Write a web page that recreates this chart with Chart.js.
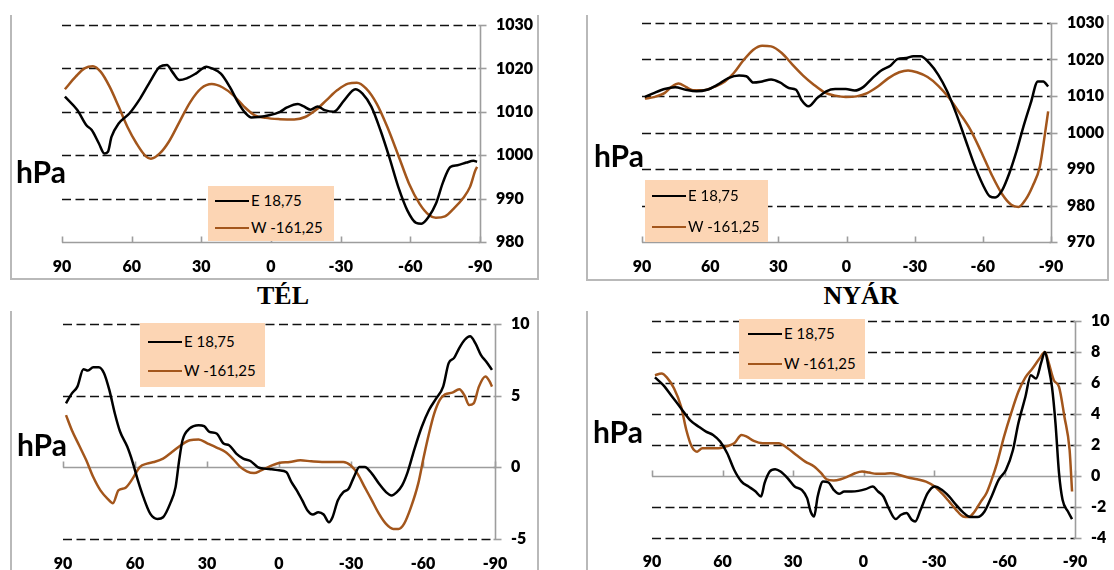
<!DOCTYPE html>
<html>
<head>
<meta charset="utf-8">
<script src="https://cdn.jsdelivr.net/npm/chart.js@4/dist/chart.umd.min.js"></script>
<style>
  html, body { margin: 0; padding: 0; background: #fff; }
  body { width: 1114px; height: 570px; position: relative; overflow: hidden; font-family: Lato, "Noto Sans", sans-serif; }
  canvas { position: absolute; }
  .frame { position: absolute; background: #b9b9b9; }
  .unit { position: absolute; font: bold 30px Lato, sans-serif; line-height: 30px; color: #000; }
  .key { position: absolute; background: #fcd5b4; }
  .key div { position: absolute; font: 15px Lato, sans-serif; line-height: 18px; height: 18px; white-space: nowrap; color: #000; }
  .key i { display: inline-block; width: 34px; height: 0; border-top: 2.5px solid; vertical-align: middle; margin-right: 2px; position: relative; top: -1px; }
  .title { position: absolute; width: 200px; text-align: center; font: bold 26px "Liberation Serif", serif; line-height: 26px; color: #000; }
</style>
</head>
<body>
<script>
// ---- series labels and axis ticks ----
const seriesNames = ['E 18,75', 'W -161,25'];
const latTicks = [90, 60, 30, 0, -30, -60, -90];
const presTicksWinter = [980, 990, 1000, 1010, 1020, 1030];
const presTicksSummer = [970, 980, 990, 1000, 1010, 1020, 1030];
const anomTicksWinter = [-5, 0, 5, 10];
const anomTicksSummer = [-4, -2, 0, 2, 4, 6, 8, 10];
const seasonTitles = ['TÉL', 'NYÁR'];

// ---- winter (TÉL) mean sea-level pressure, hPa ----
const telPresLatE = [88.75, 83.4, 79.5, 77.2, 74.1, 71.8, 70.2, 68.7, 65.6, 61, 56.3, 51.7, 47.9, 44.8, 42.5, 39.4, 36.3, 32.4, 27.8, 25.5, 21.6, 17.8, 13.9, 10.8, 8.5, 5.4, 0.8, -3.9, -6.9, -11.6, -13.9, -17, -20.1, -23.1, -27, -31.6, -36.3, -39.4, -43.2, -47.1, -50.9, -54.8, -58.7, -62.5, -64.8, -67.9, -71, -74.1, -77.2, -80.3, -84.1, -87.2, -88.75];
const telPresE = [1013.5, 1010.4, 1006.9, 1005.8, 1002.7, 1000.4, 1000.8, 1004.2, 1007.3, 1009.6, 1013.1, 1017.3, 1020.4, 1020.8, 1019.2, 1017.3, 1017.7, 1018.8, 1020.4, 1020, 1018.8, 1015.8, 1011.9, 1009.6, 1008.7, 1008.8, 1009.2, 1010, 1011, 1011.8, 1011.3, 1010.5, 1011.2, 1010.4, 1010, 1012.7, 1015.2, 1014.2, 1011.2, 1005.8, 999.6, 992.7, 987.3, 984.4, 984.2, 985.8, 988.8, 993.8, 997.3, 997.7, 998.3, 998.7, 998.5];
const telPresLatW = [88.75, 84.1, 80.3, 76.7, 73.3, 69.5, 65.6, 61.8, 57.9, 54, 51.7, 47.9, 44, 39.4, 34.7, 30.1, 25.5, 20.8, 16.2, 11.6, 7, 2.3, -3.9, -10, -14.7, -19.3, -23.9, -28.6, -33.2, -37, -40.9, -45.5, -50.1, -54.8, -59.4, -64, -67.9, -71, -74.9, -78.7, -82.6, -85.7, -88, -88.75];
const telPresW = [1015.2, 1018.1, 1020, 1020.5, 1019.2, 1015.8, 1011.2, 1006.5, 1002.7, 999.8, 999.2, 1000.4, 1003.1, 1007.7, 1012.3, 1015.4, 1016.4, 1015.6, 1013.8, 1011.2, 1009.2, 1008.6, 1008.3, 1008.2, 1008.8, 1010.4, 1012.7, 1015, 1016.5, 1016.7, 1015.4, 1011.9, 1006.5, 1000, 993.5, 988.8, 986.3, 985.6, 985.9, 987.7, 990, 992.7, 996.5, 997.3];

// ---- summer (NYÁR) mean sea-level pressure, hPa ----
const nyarPresLatE = [88.75, 84.8, 80.1, 75.4, 70.7, 66, 61.4, 56.7, 52, 47.3, 44.1, 41, 37.1, 33.2, 29.3, 25.4, 22.2, 19.9, 16.7, 12.8, 8.9, 5, 0.3, -3.6, -7.5, -11.4, -15.3, -19.3, -22.4, -26.3, -29.4, -32.6, -36.5, -40.4, -44.3, -48.2, -52.1, -56, -60, -63.1, -65.4, -68.6, -71.7, -74.8, -77.9, -81.1, -84.2, -86.6, -88.75];
const nyarPresE = [1009.7, 1010.8, 1011.9, 1012.4, 1011.7, 1011.3, 1011.7, 1013.1, 1014.9, 1015.6, 1015.4, 1013.7, 1014, 1014.5, 1013.7, 1012.2, 1011.7, 1009, 1007.2, 1009.5, 1011.3, 1011.9, 1011.9, 1011.5, 1012.5, 1014.9, 1017, 1018.3, 1020.1, 1020.4, 1020.9, 1020.9, 1019, 1015.8, 1011.3, 1005.3, 998.5, 991.6, 985.7, 982.5, 982.2, 984.3, 988.9, 994.8, 1001.7, 1008.1, 1014, 1014, 1012.6];
const nyarPresLatW = [88.75, 84.8, 80.1, 77, 73.9, 70.7, 67.6, 62.9, 58.2, 53.5, 49.6, 45.7, 41, 37.1, 33.2, 28.5, 23.8, 19.1, 14.4, 9.7, 5, 0.3, -4.4, -9.1, -13.8, -18.5, -23.2, -27.1, -31, -35.7, -40.4, -45.1, -49.8, -54.5, -59.2, -63.9, -68.6, -72.5, -75.7, -78.8, -81.9, -85.1, -87.4, -88.75];
const nyarPresW = [1009.3, 1009.7, 1010.8, 1012.5, 1013.4, 1012.5, 1011.6, 1011.6, 1012.5, 1014, 1016.3, 1019.5, 1022.7, 1023.8, 1023.6, 1021.8, 1018.6, 1015.6, 1013.1, 1011, 1010.1, 1009.7, 1009.9, 1010.8, 1012.6, 1014.9, 1016.5, 1017, 1016.5, 1015.2, 1012.8, 1009.5, 1005.3, 1000.8, 994.8, 988.4, 983, 980.2, 979.6, 981.6, 985.3, 990.7, 999.9, 1005.8];

// ---- winter (TÉL) pressure anomaly, hPa ----
const telAnomLatE = [88.75, 86.3, 84, 81.5, 79.6, 77.4, 75.1, 72.9, 70.7, 68.4, 66.2, 63.2, 61, 58.8, 56.5, 53.6, 50.6, 48.3, 45.4, 43.1, 41.6, 40.2, 37.2, 33.5, 31.2, 29, 26, 23.1, 20.8, 17.8, 14.9, 11.9, 8.9, 6, 3, 0, -3, -5.2, -7.4, -9.7, -11.9, -14.1, -16.4, -18.6, -20.8, -22.3, -24.5, -26.8, -29, -31.2, -33.5, -35.7, -38.7, -41.7, -44.6, -46.9, -49.1, -51.3, -53.6, -56.5, -59.5, -62.5, -65.5, -68.4, -70.7, -72.9, -75.1, -77.4, -79.6, -81.8, -84.1, -86.3, -88.75];
const telAnomE = [4.46, 5.16, 5.63, 6.85, 6.75, 6.99, 6.99, 6.57, 5.4, 3.76, 2.48, 1.43, 0.37, -0.91, -2.08, -3.25, -3.6, -3.48, -2.55, -1.38, 0.49, 1.89, 2.71, 2.94, 2.87, 2.48, 2.36, 1.66, 1.54, 0.96, 0.61, 0.44, 0.02, -0.09, -0.14, -0.21, -0.33, -1.03, -1.61, -2.31, -3.01, -3.29, -3.13, -3.29, -3.83, -3.48, -2.31, -1.73, -1.5, -0.68, 0.02, 0.02, -0.44, -1.15, -1.73, -1.96, -1.73, -1.26, -0.33, 1.31, 2.83, 4, 4.81, 5.63, 7.27, 7.62, 8.32, 8.9, 9.14, 8.67, 7.85, 7.38, 6.8];
const telAnomLatW = [88.75, 86.3, 83.3, 80.3, 77.4, 74.4, 71.4, 69.2, 66.9, 64, 61, 58, 55, 52.1, 48.3, 44.6, 40.9, 37.2, 33.5, 29.7, 26, 22.3, 19.3, 16.4, 13.4, 10.4, 7.4, 4.5, 0, -4.5, -8.9, -13.4, -17.9, -22.3, -26.8, -29.8, -32.7, -35.7, -38.7, -41.7, -44.6, -47.6, -49.8, -52.1, -55, -58, -60.3, -62.5, -64.7, -67, -69.2, -72.2, -75.1, -77.4, -79.2, -81.1, -83.3, -86, -87.8, -88.75];
const telAnomW = [3.64, 2.59, 1.54, 0.49, -0.68, -1.61, -2.2, -2.5, -1.61, -1.43, -0.79, 0.02, 0.26, 0.37, 0.61, 1.07, 1.54, 1.89, 1.94, 1.66, 1.38, 1.07, 0.61, 0.07, -0.28, -0.4, -0.21, 0.02, 0.3, 0.37, 0.49, 0.42, 0.37, 0.37, 0.37, 0.14, -0.44, -1.38, -2.31, -3.25, -3.95, -4.3, -4.3, -3.95, -2.78, -1.14, 0.72, 2.36, 3.76, 4.7, 5.09, 5.21, 5.44, 4.98, 4.35, 4.46, 5.63, 6.33, 5.98, 5.63];

// ---- summer (NYÁR) pressure anomaly, hPa ----
const nyarAnomLatE = [88.75, 85.2, 81.4, 77.6, 73.8, 70.1, 67, 64, 61, 58, 55, 51.9, 48.9, 45.9, 43.6, 42.1, 39.9, 37.6, 35.3, 32.3, 29.3, 26.3, 24, 22.5, 21, 19.5, 17.2, 14.9, 12.7, 10.4, 8.2, 5.1, 2.1, -0.9, -3.9, -6.2, -8.5, -10.7, -13.7, -16, -18.3, -20.5, -22, -24.3, -27.3, -30.3, -33.3, -36.4, -39.4, -42.4, -45.5, -48.5, -51.5, -54.5, -57.5, -60.6, -63.6, -65.9, -68.9, -71.2, -73.4, -75.7, -77.2, -78.7, -80.2, -81.7, -83.2, -84.7, -87, -88.75];
const nyarAnomE = [6.36, 5.86, 5.11, 4.36, 3.61, 3.18, 2.86, 2.65, 2.22, 1.47, 0.39, -0.36, -0.68, -1, -1.32, -0.46, 0.29, 0.44, 0.29, -0.14, -0.68, -0.89, -1.43, -2.29, -2.61, -1.32, -0.36, -0.42, -0.89, -1.15, -1, -1, -0.96, -0.85, -0.68, -1, -1.32, -2.07, -2.78, -2.5, -2.39, -2.82, -2.93, -2.18, -1.11, -0.68, -0.89, -1.32, -1.86, -2.35, -2.65, -2.65, -2.29, -1.32, -0.25, 0.39, 1.68, 3.4, 5.11, 6.5, 6.29, 7.36, 8, 7.04, 5.75, 3.4, 0.18, -1.54, -2.29, -2.78];
const nyarAnomLatW = [88.75, 85.9, 83.7, 80.6, 77.6, 75.4, 73.1, 70.8, 68.6, 65.5, 61.8, 58.7, 55, 51.9, 49.7, 46.7, 42.9, 39.1, 36.1, 32.3, 28.6, 24.8, 21, 18, 15.7, 12.7, 9.7, 6.6, 3.6, 0.6, -2.4, -5.4, -8.5, -11.5, -15.3, -19, -22.8, -26.6, -30.3, -33.3, -36.4, -39.4, -42.4, -44.7, -47, -50, -52.3, -54.5, -56.8, -59.8, -62.8, -65.9, -68.9, -71.9, -74.9, -77.2, -78.7, -81, -83.2, -85.5, -87.7, -88.75];
const nyarAnomW = [6.5, 6.61, 6.36, 5.65, 4.47, 2.97, 1.9, 1.57, 1.79, 1.79, 1.79, 1.9, 2.11, 2.65, 2.54, 2.26, 2.11, 2.11, 2.11, 1.79, 1.36, 0.93, 0.61, 0.18, -0.21, -0.29, -0.21, -0.03, 0.18, 0.29, 0.22, 0.14, 0.14, 0.18, 0.07, -0.1, -0.21, -0.36, -0.68, -1.11, -1.64, -2.18, -2.61, -2.65, -2.35, -1.64, -1.11, -0.25, 0.82, 2.54, 4.04, 5.43, 6.36, 6.93, 7.58, 8, 7.36, 6.18, 5.75, 3.82, 1.68, -1];

// ---- drawing ----
const INK = '#000000';
const RUST = '#a3561c';
const TICK_FONT = { family: 'Lato', size: 16, weight: '800', lineHeight: 1 };

const pairs = (xs, ys) => xs.map((x, i) => ({ x, y: ys[i] }));

// dashed value grid, category axis crossing at a chosen value, right value axis
const excelAxes = {
  id: 'excelAxes',
  beforeDatasetsDraw(chart, args, opts) {
    const { ctx, chartArea: a, scales: { x, y } } = chart;
    const seg = (x1, y1, x2, y2) => { ctx.beginPath(); ctx.moveTo(x1, y1); ctx.lineTo(x2, y2); ctx.stroke(); };
    ctx.save();
    ctx.strokeStyle = '#111';
    ctx.lineWidth = 1.5;
    ctx.setLineDash([9, 4.5]);
    y.ticks.forEach(t => {
      if (t.value === opts.cross) return;
      const py = Math.round(y.getPixelForValue(t.value)) + 0.5;
      seg(a.left, py, a.right, py);
    });
    ctx.setLineDash([]);
    ctx.strokeStyle = '#9d9d9d';
    ctx.lineWidth = 1.6;
    const cy = Math.round(y.getPixelForValue(opts.cross)) + 0.5;
    seg(a.left, cy, a.right, cy);
    x.ticks.forEach(t => {
      const px = Math.round(x.getPixelForValue(t.value)) + 0.5;
      seg(px, cy - 6, px, cy);
    });
    const rx = Math.round(a.right) + 0.5;
    seg(rx, a.top, rx, a.bottom);
    y.ticks.forEach(t => {
      const py = Math.round(y.getPixelForValue(t.value)) + 0.5;
      seg(rx - 2, py, rx + 6, py);
    });
    ctx.restore();
  }
};

function addEl(cls, css, html) {
  const d = document.createElement('div');
  d.className = cls;
  Object.assign(d.style, css);
  if (html !== undefined) d.innerHTML = html;
  document.body.appendChild(d);
  return d;
}

function panel(cfg) {
  const cv = document.createElement('canvas');
  cv.width = cfg.w; cv.height = cfg.h;
  cv.style.left = cfg.x + 'px'; cv.style.top = cfg.y + 'px';
  document.body.appendChild(cv);
  new Chart(cv, {
    type: 'line',
    data: {
      datasets: [
        { label: seriesNames[0], data: pairs(cfg.latE, cfg.valE), borderColor: INK },
        { label: seriesNames[1], data: pairs(cfg.latW, cfg.valW), borderColor: RUST }
      ]
    },
    options: {
      responsive: false, animation: false, devicePixelRatio: 1,
      layout: { padding: { left: cfg.padL, top: cfg.padT, right: 0, bottom: 0 } },
      elements: {
        point: { radius: 0, hoverRadius: 0 },
        line: { borderWidth: 2.5, cubicInterpolationMode: 'monotone', fill: false }
      },
      plugins: { legend: { display: false }, tooltip: { enabled: false }, excelAxes: { cross: cfg.cross } },
      scales: {
        x: {
          type: 'linear', reverse: true,
          min: latTicks[latTicks.length - 1], max: latTicks[0],
          afterBuildTicks: s => { s.ticks = latTicks.map(v => ({ value: v })); },
          ticks: { font: TICK_FONT, color: '#000', padding: 0, maxRotation: 0, autoSkip: false, callback: v => String(v) },
          grid: { display: true, drawOnChartArea: false, drawTicks: true, tickLength: cfg.xGap, tickColor: 'transparent' },
          border: { display: false },
          afterFit: s => { s.height = cfg.xh; }
        },
        y: {
          position: 'right',
          min: cfg.ticks[0], max: cfg.ticks[cfg.ticks.length - 1],
          afterBuildTicks: s => { s.ticks = cfg.ticks.map(v => ({ value: v })); },
          ticks: { font: TICK_FONT, color: '#000', padding: 0, callback: v => String(v) },
          grid: { display: true, drawOnChartArea: false, drawTicks: true, tickLength: 16, tickColor: 'transparent' },
          border: { display: false },
          afterFit: s => { s.width = cfg.yw; }
        }
      }
    },
    plugins: [excelAxes]
  });

  // axis unit
  addEl('unit', { left: cfg.unit[0] + 'px', top: cfg.unit[1] + 'px' }, 'hPa');

  // legend box
  const k = addEl('key', { left: cfg.key[0] + 'px', top: cfg.key[1] + 'px', width: cfg.key[2] + 'px', height: cfg.key[3] + 'px' });
  [INK, RUST].forEach((c, i) => {
    const row = document.createElement('div');
    row.style.left = cfg.keyRow[0] + 'px';
    row.style.top = (cfg.keyRow[1 + i] - 9) + 'px';
    row.innerHTML = '<i style="border-color:' + c + '"></i>' + seriesNames[i];
    k.appendChild(row);
  });
}

// chart frames
addEl('frame', { left: '10px', top: '15px', width: '2px', height: '265px' });
addEl('frame', { left: '537px', top: '15px', width: '2px', height: '265px' });
addEl('frame', { left: '10px', top: '278px', width: '529px', height: '2px' });
addEl('frame', { left: '586px', top: '15px', width: '2px', height: '266px' });
addEl('frame', { left: '1107px', top: '15px', width: '2px', height: '266px' });
addEl('frame', { left: '586px', top: '279px', width: '523px', height: '2px' });
addEl('frame', { left: '10px', top: '311px', width: '2px', height: '260px' });
addEl('frame', { left: '537px', top: '311px', width: '2px', height: '260px' });
addEl('frame', { left: '586px', top: '311px', width: '2px', height: '260px' });

panel({ x: 11, y: 15, w: 526, h: 264, padL: 51, padT: 10, yw: 57, xh: 37, xGap: 17, cross: 980,
  ticks: presTicksWinter, latE: telPresLatE, valE: telPresE, latW: telPresLatW, valW: telPresW,
  unit: [16, 156], key: [208, 186, 126, 55], keyRow: [7, 14, 41] });
panel({ x: 588, y: 15, w: 519, h: 265, padL: 54, padT: 8, yw: 56, xh: 38, xGap: 17, cross: 970,
  ticks: presTicksSummer, latE: nyarPresLatE, valE: nyarPresE, latW: nyarPresLatW, valW: nyarPresW,
  unit: [594, 140], key: [645, 180, 123, 62], keyRow: [7, 15, 46] });
panel({ x: 12, y: 312, w: 525, h: 258, padL: 51, padT: 12, yw: 42, xh: 31, xGap: 17, cross: 0,
  ticks: anomTicksWinter, latE: telAnomLatE, valE: telAnomE, latW: telAnomLatW, valW: telAnomW,
  unit: [17, 429], key: [140, 323, 125, 64], keyRow: [8, 18, 47] });
panel({ x: 588, y: 312, w: 526, h: 258, padL: 64, padT: 9, yw: 39, xh: 32, xGap: 16, cross: 0,
  ticks: anomTicksSummer, latE: nyarAnomLatE, valE: nyarAnomE, latW: nyarAnomLatW, valW: nyarAnomW,
  unit: [593, 416], key: [739, 319, 126, 60], keyRow: [9, 14, 44] });

// season titles
addEl('title', { left: (283 - 100) + 'px', top: '283px' }, seasonTitles[0]);
addEl('title', { left: (861 - 100) + 'px', top: '283px' }, seasonTitles[1]);
</script>
</body>
</html>
